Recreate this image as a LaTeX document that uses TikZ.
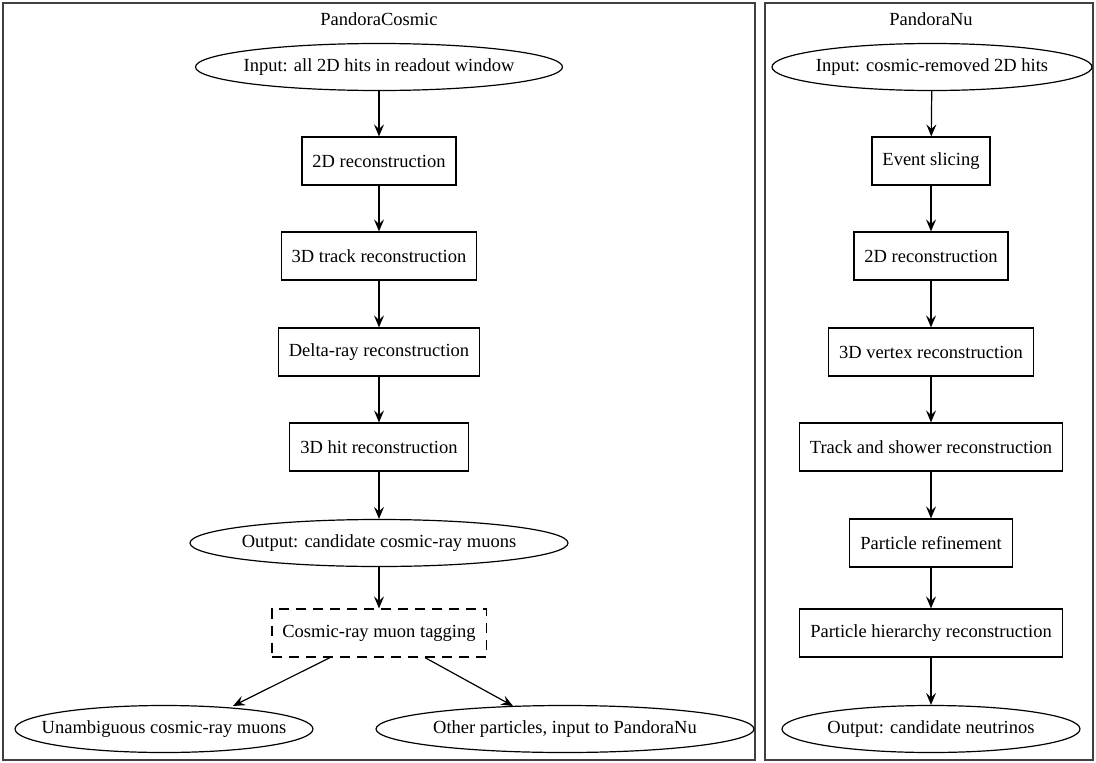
\documentclass[tikz,border=0pt]{standalone}
\usepackage{fontspec}
\setmainfont{Liberation Serif}
\usetikzlibrary{shapes.geometric,arrows.meta}
\begin{document}
\begin{tikzpicture}[x=1pt,y=-1pt,
  every node/.style={font=\fontsize{18.5}{22}\selectfont, text=black},
  stepbox/.style={draw, line width=1.2pt, rectangle, inner xsep=10.5pt, minimum height=48pt},
  dashbox/.style={stepbox, dash pattern=on 10pt off 7pt},
  oval/.style={draw, line width=1.2pt, ellipse, inner xsep=-80pt, inner ysep=-12pt, minimum height=47pt},
  cluster/.style={draw=black!75, line width=1.4pt},
  arr/.style={-{Stealth[length=12pt,width=10pt,inset=4.5pt]}, line width=1.2pt}
]
\useasboundingbox (0,0) rectangle (1096,763);
% clusters
\draw[cluster] (3,3) rectangle (755,760);
\draw[cluster] (765,3) rectangle (1093,760);
\node (tc) at (379,19) {PandoraCosmic};
\node (tn) at (931,19) {PandoraNu};
% left column
\node[oval, minimum width=367pt] (c0) at (379,67) {Input: all 2D hits in readout window};
\node[stepbox] (c1) at (379,161) {2D reconstruction};
\node[stepbox] (c2) at (379,256) {3D track reconstruction};
\node[stepbox] (c3) at (379,352) {Delta-ray reconstruction};
\node[stepbox] (c4) at (379,447) {3D hit reconstruction};
\node[oval, minimum width=378pt] (c5) at (379,543) {Output: candidate cosmic-ray muons};
\node[dashbox] (c6) at (379,633) {Cosmic-ray muon tagging};
\node[oval, minimum width=298pt] (c7) at (164,729) {Unambiguous cosmic-ray muons};
\node[oval, minimum width=378pt] (c8) at (565,729) {Other particles, input to PandoraNu};
\draw[arr] (c0) -- (c1);
\draw[arr] (c1) -- (c2);
\draw[arr] (c2) -- (c3);
\draw[arr] (c3) -- (c4);
\draw[arr] (c4) -- (c5);
\draw[arr] (c5) -- (c6);
\draw[arr] (c6.south -| 330,0) -- (233,706);
\draw[arr] (c6.south -| 425,0) -- (513,706);
% right column
\node[oval, minimum width=320pt] (n0) at (932,67) {Input: cosmic-removed 2D hits};
\node[stepbox] (n1) at (931,161) {Event slicing};
\node[stepbox] (n2) at (931,256) {2D reconstruction};
\node[stepbox] (n3) at (931,352) {3D vertex reconstruction};
\node[stepbox] (n4) at (931,447) {Track and shower reconstruction};
\node[stepbox] (n5) at (931,543) {Particle refinement};
\node[stepbox] (n6) at (931,633) {Particle hierarchy reconstruction};
\node[oval, minimum width=298pt] (n7) at (931,729) {Output: candidate neutrinos};
\draw[arr] (n0) -- (n1);
\draw[arr] (n1) -- (n2);
\draw[arr] (n2) -- (n3);
\draw[arr] (n3) -- (n4);
\draw[arr] (n4) -- (n5);
\draw[arr] (n5) -- (n6);
\draw[arr] (n6) -- (n7);
\end{tikzpicture}
\end{document}
